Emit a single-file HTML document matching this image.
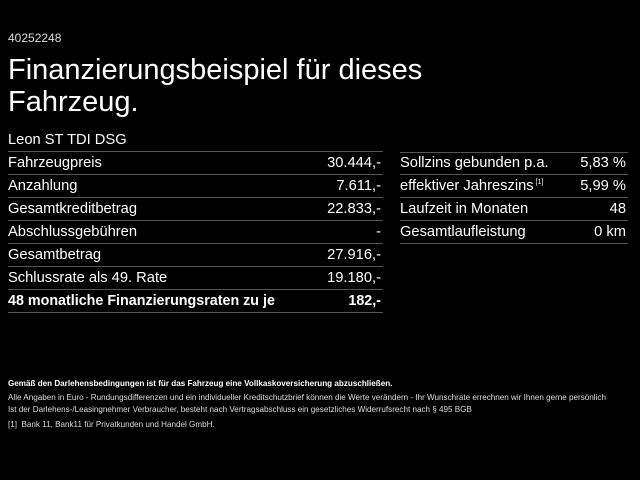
<!DOCTYPE html>
<html><head><meta charset="utf-8"><style>
body{margin:0;width:640px;height:480px;background:#000;color:#fff;font-family:"Liberation Sans",sans-serif;position:relative;overflow:hidden}
.a{position:absolute;white-space:nowrap}
.row{position:absolute;height:22px;border-bottom:1px solid #555;font-size:14.7px;line-height:23px}
.row span{position:absolute;right:2px;top:0}
.f{position:absolute;left:8px;font-size:8.1px;white-space:nowrap;color:#ddd}
</style></head><body>
<div class="a" style="left:8px;top:31px;font-size:12px;color:#ddd">40252248</div>
<div class="a" style="left:8px;top:54px;font-size:29px;line-height:32px">Finanzierungsbeispiel für dieses<br>Fahrzeug.</div>
<div class="row" style="left:8px;top:129px;width:375px">Leon ST TDI DSG</div>
<div class="row" style="left:8px;top:152px;width:375px">Fahrzeugpreis<span>30.444,-</span></div>
<div class="row" style="left:8px;top:175px;width:375px">Anzahlung<span>7.611,-</span></div>
<div class="row" style="left:8px;top:198px;width:375px">Gesamtkreditbetrag<span>22.833,-</span></div>
<div class="row" style="left:8px;top:221px;width:375px">Abschlussgebühren<span>-</span></div>
<div class="row" style="left:8px;top:244px;width:375px">Gesamtbetrag<span>27.916,-</span></div>
<div class="row" style="left:8px;top:267px;width:375px">Schlussrate als 49. Rate<span>19.180,-</span></div>
<div class="row" style="left:8px;top:290px;width:375px;font-weight:bold;font-size:14.3px">48 monatliche Finanzierungsraten zu je<span>182,-</span></div>
<div class="row" style="left:400px;top:130px;width:228px;height:22px;font-size:0"></div>
<div class="row" style="left:400px;top:152px;width:228px">Sollzins gebunden p.a.<span>5,83 %</span></div>
<div class="row" style="left:400px;top:175px;width:228px">effektiver Jahreszins<sup style="font-size:7px;line-height:0;vertical-align:6px"> [1]</sup><span>5,99 %</span></div>
<div class="row" style="left:400px;top:198px;width:228px">Laufzeit in Monaten<span>48</span></div>
<div class="row" style="left:400px;top:221px;width:228px">Gesamtlaufleistung<span>0 km</span></div>
<div class="f" style="top:379px;font-weight:bold;color:#fff">Gemäß den Darlehensbedingungen ist für das Fahrzeug eine Vollkaskoversicherung abzuschließen.</div>
<div class="f" style="top:393px">Alle Angaben in Euro - Rundungsdifferenzen und ein individueller Kreditschutzbrief können die Werte verändern - Ihr Wunschrate errechnen wir Ihnen gerne persönlich</div>
<div class="f" style="top:405px">Ist der Darlehens-/Leasingnehmer Verbraucher, besteht nach Vertragsabschluss ein gesetzliches Widerrufsrecht nach § 495 BGB</div>
<div class="f" style="top:420px">[1]&nbsp; Bank 11, Bank11 für Privatkunden und Handel GmbH.</div>
</body></html>
